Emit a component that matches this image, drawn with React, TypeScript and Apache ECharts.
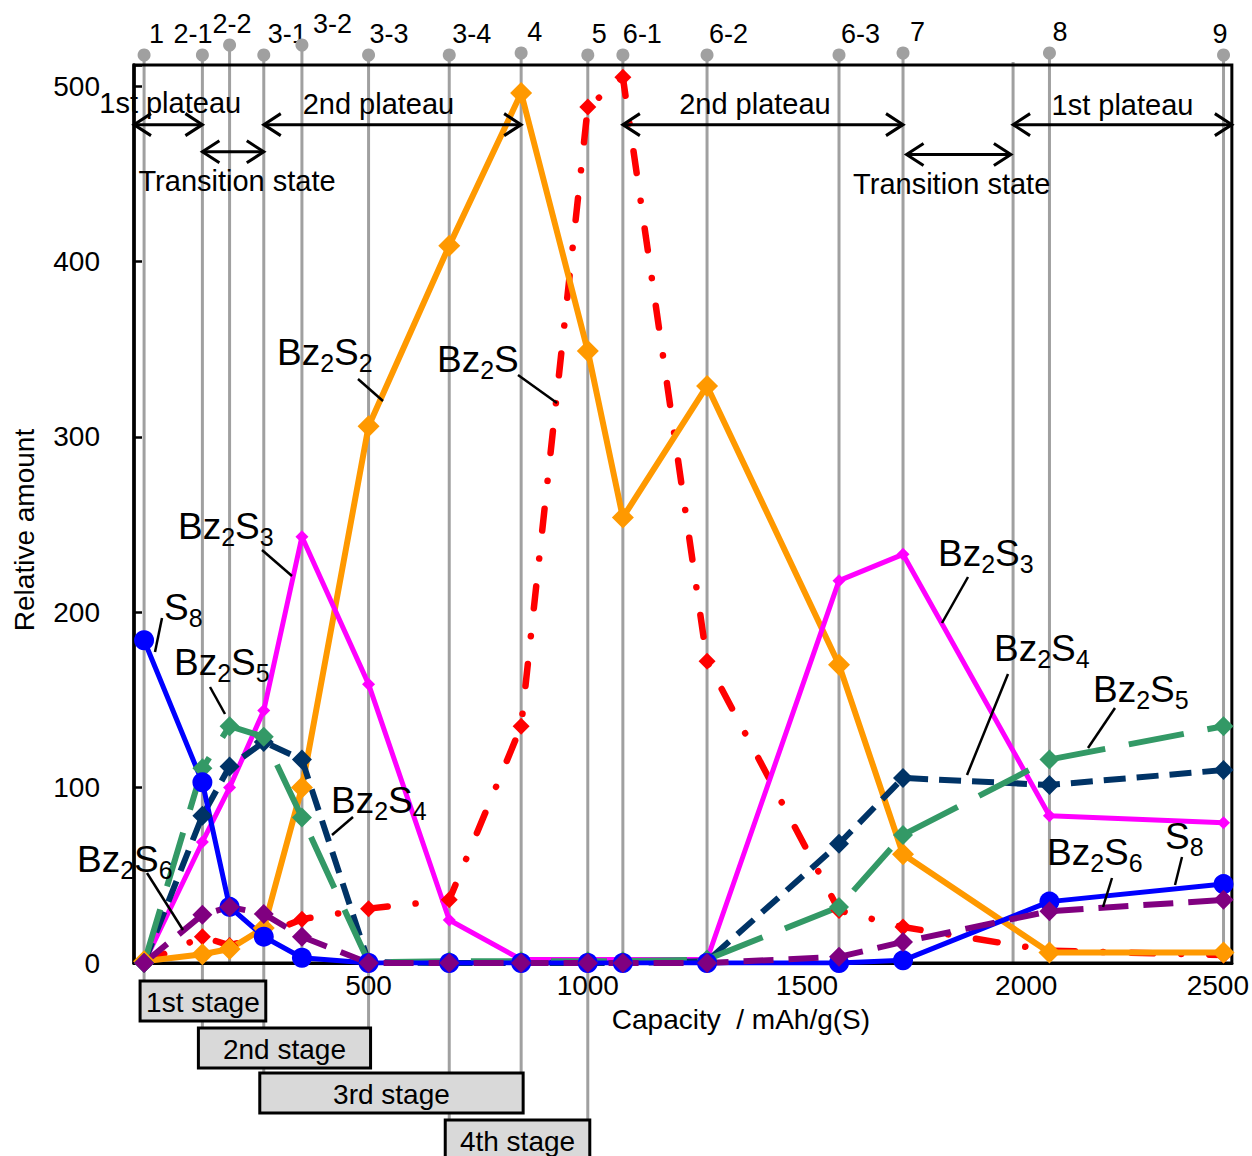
import React, { useEffect, useRef } from 'react';
import * as echarts from 'echarts';

// ---------- data ----------
const pointNames = ['1', '2-1', '2-2', '3-1', '3-2', '3-3', '3-4', '4', '5', '6-1', '6-2', '6-3', '7', '8', '9'];
const capacity = [-12, 121, 183, 261, 348, 500, 684, 848, 1000, 1080, 1272, 1573, 1719, 2053, 2450];
const boundaryCapacity = [1970];

const s8 = [184, 103, 32, 15, 3, 0, 0, 0, 0, 0, 0, 0, 1.5, 35, 45];
const bz2s2 = [1, 5, 8, 20, 100, 306, 409, 496, 349, 254, 329, 170, 62, 6, 6];
const bz2s3 = [0, 69, 100, 144, 243, 159, 24.5, 2, 2, 2, 2, 218, 233, 84, 80];
const bz2s = [0, 15, 10, 16, 25, 31, 36, 135, 488, 505, 172, 30, 20.5, 7, 4.5];
const bz2s4 = [0, 84, 112, 126, 116, 0.5, 0, 0, 0, 0, 1, 68, 105.5, 101.5, 110];
const bz2s5 = [0, 111, 135, 129, 83, 0.5, 1, 1, 1, 1, 2, 32, 73, 116, 135];
const bz2s6 = [0, 27.5, 32, 28, 15, 0, 0, 0, 0, 0, 0, 3.5, 12, 29.5, 36];

const xTickLabels = [500, 1000, 1500, 2000, 2500];
const yTickLabels = [0, 100, 200, 300, 400, 500];

const stageNames = ['1st stage', '2nd stage', '3rd stage', '4th stage'];
const stageFrom = [-12, 121, 261, 684];
const stageTo = [261, 500, 848, 1000];

const plateauLabels = ['1st plateau', 'Transition state', '2nd plateau', '2nd plateau', 'Transition state', '1st plateau'];
const plateauFrom = [-35, 121, 261, 1080, 1727, 1970];
const plateauTo = [121, 261, 848, 1719, 1965, 2469];
const plateauLevel = [478, 462.5, 478, 478, 461, 478];

// ---------- layout / style ----------
const X_MIN = -35;
const X_MAX = 2469;
const Y_MAX = 512;
const FONT = '"Liberation Sans", Arial, sans-serif';
const GRAY = '#a0a0a0';

const markerRaise = [10, 10, 20, 10, 20, 10, 10, 12, 10, 10, 10, 10, 12, 12, 10];
const labelDx = [5, -29, -17, 4, 11, 1, 3, 6, 4, 0, 2, 2, 7, 3, -11];
const lineDrop = [18, 65, 0, 110, 0, 65, 157, 110, 200, 0, 0, 0, 0, 0, 0];
const stageTop = [18, 65, 110, 157];
const plateauDx = [2, 4, -14, -8, -7, 0];
const plateauDy = [-22, 29, -21, -21, 30, -20];

const annotations = [
  { parts: ['Bz', '2', 'S', '2'], x: 277, y: 352, line: [358, 379, 383, 401] },
  { parts: ['Bz', '2', 'S'], x: 437, y: 359, line: [518, 375, 557, 403] },
  { parts: ['Bz', '2', 'S', '3'], x: 178, y: 526, line: [262, 550, 292, 576] },
  { parts: ['S', '8'], x: 164, y: 607, line: [162, 618, 155, 652] },
  { parts: ['Bz', '2', 'S', '5'], x: 174, y: 662, line: [210, 687, 225, 714] },
  { parts: ['Bz', '2', 'S', '4'], x: 331, y: 800, line: [353, 817, 332, 835] },
  { parts: ['Bz', '2', 'S', '6'], x: 77, y: 859, line: [147, 873, 183, 930] },
  { parts: ['Bz', '2', 'S', '3'], x: 938, y: 553, line: [968, 577, 942, 623] },
  { parts: ['Bz', '2', 'S', '4'], x: 994, y: 648, line: [1008, 674, 967, 775] },
  { parts: ['Bz', '2', 'S', '5'], x: 1093, y: 689, line: [1115, 708, 1088, 748] },
  { parts: ['Bz', '2', 'S', '6'], x: 1047, y: 852, line: [1112, 878, 1103, 907] },
  { parts: ['S', '8'], x: 1165, y: 836, line: [1182, 857, 1175, 885] },
];

const xLabelValues = xTickLabels.map((v) => Math.min(v, X_MAX));

function lineSeries(name: string, values: number[], color: string, opts: any) {
  return {
    type: 'line',
    name,
    data: capacity.map((x, i) => [x, values[i]]),
    symbol: opts.symbol || 'diamond',
    symbolSize: opts.size,
    showAllSymbol: true,
    z: 5,
    lineStyle: { color, width: opts.width || 6, type: opts.dash || 'solid', cap: opts.cap || 'butt' },
    itemStyle: { color },
    emphasis: { disabled: true },
    silent: true,
  };
}

export default function App() {
  const ref = useRef<HTMLDivElement>(null);

  useEffect(() => {
    if (!ref.current) return;
    const chart = echarts.init(ref.current, undefined, { renderer: 'svg' });

    const refSeries = {
      type: 'custom',
      z: 1,
      clip: false,
      silent: true,
      data: capacity.map((x, i) => [x, i]),
      encode: { x: 0, y: 1 },
      renderItem: (params: any, api: any) => {
        const i = api.value(1);
        const px = api.coord([api.value(0), 0])[0];
        const cs = params.coordSys;
        const top = cs.y - markerRaise[i];
        const bottom = cs.y + cs.height + lineDrop[i];
        return {
          type: 'group',
          children: [
            { type: 'line', shape: { x1: px, y1: top, x2: px, y2: bottom }, style: { stroke: GRAY, lineWidth: 3 } },
            { type: 'circle', shape: { cx: px, cy: top, r: 6.5 }, style: { fill: GRAY } },
            {
              type: 'text',
              style: {
                text: pointNames[i], x: px + labelDx[i], y: top - 21, fill: '#000',
                fontSize: 27, fontFamily: FONT, align: 'left', verticalAlign: 'middle',
              },
            },
          ],
        };
      },
    };

    const boundarySeries = {
      type: 'custom',
      z: 1,
      clip: false,
      silent: true,
      data: boundaryCapacity.map((x) => [x, 0]),
      renderItem: (params: any, api: any) => {
        const px = api.coord([api.value(0), 0])[0];
        const cs = params.coordSys;
        return { type: 'line', shape: { x1: px, y1: cs.y - 3, x2: px, y2: cs.y + cs.height }, style: { stroke: GRAY, lineWidth: 3 } };
      },
    };

    const stageSeries = {
      type: 'custom',
      z: 4,
      clip: false,
      silent: true,
      data: stageFrom.map((f, i) => [f, stageTo[i], i]),
      encode: { x: [0, 1], y: 2 },
      renderItem: (params: any, api: any) => {
        const i = api.value(2);
        const x1 = api.coord([api.value(0), 0])[0] - 4;
        const x2 = api.coord([api.value(1), 0])[0] + 2;
        const cs = params.coordSys;
        const top = cs.y + cs.height + stageTop[i];
        return {
          type: 'group',
          children: [
            { type: 'rect', shape: { x: x1, y: top, width: x2 - x1, height: 40 }, style: { fill: '#d9d9d9', stroke: '#000', lineWidth: 3 } },
            {
              type: 'text',
              style: {
                text: stageNames[i], x: (x1 + x2) / 2, y: top + 21, fill: '#000',
                fontSize: 28, fontFamily: FONT, align: 'center', verticalAlign: 'middle',
              },
            },
          ],
        };
      },
    };

    const plateauSeries = {
      type: 'custom',
      z: 12,
      clip: false,
      silent: true,
      data: plateauFrom.map((f, i) => [f, plateauTo[i], plateauLevel[i], i]),
      encode: { x: [0, 1], y: 2 },
      renderItem: (params: any, api: any) => {
        const i = api.value(3);
        const p1 = api.coord([api.value(0), api.value(2)]);
        const p2 = api.coord([api.value(1), api.value(2)]);
        const y = p1[1];
        const ax = 17;
        const ay = 11;
        const st = { stroke: '#000', lineWidth: 3, fill: 'none' };
        return {
          type: 'group',
          children: [
            { type: 'line', shape: { x1: p1[0], y1: y, x2: p2[0], y2: y }, style: st },
            { type: 'polyline', shape: { points: [[p1[0] + ax, y - ay], [p1[0], y], [p1[0] + ax, y + ay]] }, style: st },
            { type: 'polyline', shape: { points: [[p2[0] - ax, y - ay], [p2[0], y], [p2[0] - ax, y + ay]] }, style: st },
            {
              type: 'text',
              style: {
                text: plateauLabels[i], x: (p1[0] + p2[0]) / 2 + plateauDx[i], y: y + plateauDy[i], fill: '#000',
                fontSize: 29, fontFamily: FONT, align: 'center', verticalAlign: 'middle',
              },
            },
          ],
        };
      },
    };

    const graphic: any[] = [];
    annotations.forEach((a) => {
      graphic.push({
        type: 'text',
        x: a.x,
        y: a.y,
        z: 20,
        silent: true,
        style: {
          text: a.parts.map((p, k) => `{${k % 2 ? 's' : 'm'}|${p}}`).join(''),
          fill: '#000',
          align: 'left',
          verticalAlign: 'middle',
          rich: {
            m: { fontSize: 37, fontFamily: FONT, lineHeight: 46, fill: '#000' },
            s: { fontSize: 25, fontFamily: FONT, verticalAlign: 'bottom', fill: '#000' },
          },
        },
      });
      graphic.push({
        type: 'line',
        z: 20,
        silent: true,
        shape: { x1: a.line[0], y1: a.line[1], x2: a.line[2], y2: a.line[3] },
        style: { stroke: '#000', lineWidth: 2.5 },
      });
    });

    const option: any = {
      animation: false,
      backgroundColor: '#fff',
      grid: { left: 134, right: 20, top: 65, bottom: 193, show: true, borderColor: '#000', borderWidth: 3, z: 2 },
      xAxis: {
        type: 'value',
        min: X_MIN,
        max: X_MAX,
        z: 2,
        name: 'Capacity  / mAh/g(S)',
        nameLocation: 'middle',
        nameGap: 42,
        nameTextStyle: { fontSize: 28, fontFamily: FONT, color: '#000', padding: [0, 0, 0, 116] },
        axisLine: { show: true, onZero: false, lineStyle: { color: '#000', width: 3 } },
        axisTick: { show: false },
        splitLine: { show: false },
        axisLabel: {
          customValues: xLabelValues,
          margin: 8,
          fontSize: 28,
          fontFamily: FONT,
          color: '#000',
          formatter: (v: number) => {
            const idx = xLabelValues.indexOf(v);
            const t = String(idx >= 0 ? xTickLabels[idx] : v);
            return v === X_MAX ? `{last|${t}}` : t;
          },
          rich: { last: { fontSize: 28, fontFamily: FONT, color: '#000', padding: [0, 28, 0, 0] } },
        },
      },
      yAxis: {
        type: 'value',
        min: 0,
        max: Y_MAX,
        interval: 100,
        z: 2,
        name: 'Relative amount',
        nameLocation: 'middle',
        nameGap: 96,
        nameRotate: 90,
        nameTextStyle: { fontSize: 28, fontFamily: FONT, color: '#000', padding: [0, 32, 0, 0] },
        axisLine: { show: true, onZero: false, lineStyle: { color: '#000', width: 3.5 } },
        axisTick: { show: true, inside: true, length: 8, lineStyle: { color: '#000', width: 2.5 } },
        splitLine: { show: false },
        axisLabel: {
          margin: 34,
          fontSize: 28,
          fontFamily: FONT,
          color: '#000',
          formatter: (v: number) => (yTickLabels.indexOf(v) >= 0 ? String(v) : ''),
        },
      },
      graphic,
      series: [
        refSeries,
        boundarySeries,
        stageSeries,
        lineSeries('Bz2S', bz2s, '#ff0000', { size: 17, dash: [22, 28, 0.1, 28], cap: 'round', width: 6.5 }),
        lineSeries('Bz2S2', bz2s2, '#ff9900', { size: 22, width: 6 }),
        lineSeries('Bz2S3', bz2s3, '#ff00ff', { size: 13, width: 5 }),
        lineSeries('Bz2S4', bz2s4, '#003366', { size: 20, dash: [22, 11], width: 6 }),
        lineSeries('Bz2S5', bz2s5, '#339966', { size: 20, dash: [56, 24], width: 6 }),
        lineSeries('S8', s8, '#0000ff', { symbol: 'circle', size: 20, width: 5 }),
        lineSeries('Bz2S6', bz2s6, '#800080', { size: 20, dash: [30, 15], width: 6 }),
        plateauSeries,
      ],
    };

    chart.setOption(option);
    return () => chart.dispose();
  }, []);

  return (
    <div
      ref={ref}
      style={{ position: 'absolute', left: 0, top: 0, width: 1252, height: 1156, background: '#fff' }}
    />
  );
}
